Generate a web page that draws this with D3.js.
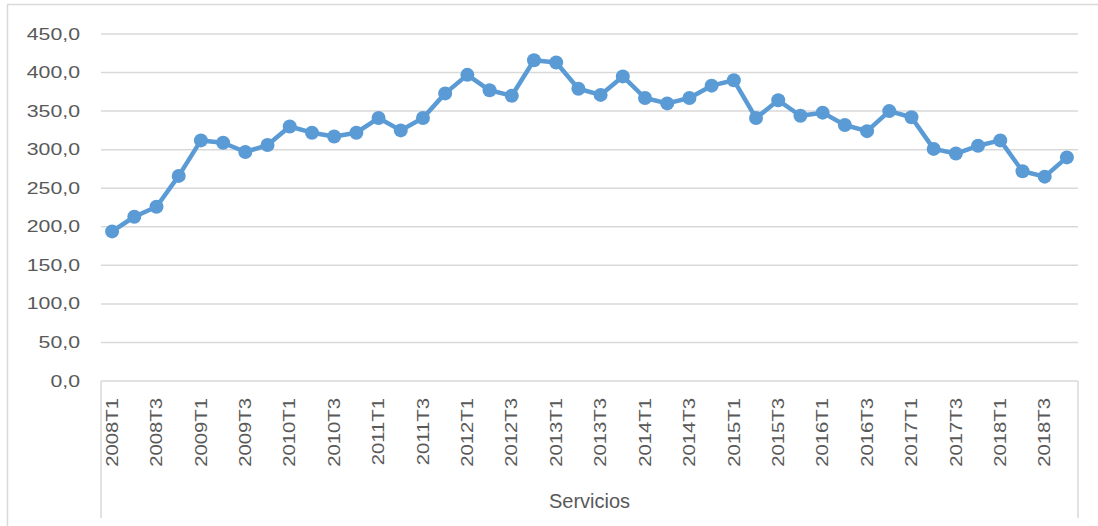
<!DOCTYPE html>
<html><head><meta charset="utf-8">
<script src="https://cdn.jsdelivr.net/npm/d3@7"></script>
<style>html,body{margin:0;padding:0;background:#fff;}svg{display:block;}</style>
</head><body>
<svg id="c" width="1098" height="526"></svg>
<script>
const categories = [];
const years = [2008,2009,2010,2011,2012,2013,2014,2015,2016,2017,2018];
years.forEach(y => [1,2,3,4].forEach(q => categories.push(y + "T" + q)));
const values = [194,213,226,266,312,309,297,306,330,322,317,322,
  341,325,341,373,397,377,370,416,413,379,371,395,
  367,360,367,383,390,341,364,344,348,332,324,350,
  342,301,295,305,312,272,265,290];
const yTicks = [0,50,100,150,200,250,300,350,400,450];
const groupLabel = "Servicios";

const svg = d3.select("#c");
const L = 101, R = 1078, T = 34, B = 381;
const x = d3.scaleBand().domain(categories).range([L, R]);
const y = d3.scaleLinear().domain([0, 450]).range([B, T]);
const fmt = v => d3.format(".1f")(v).replace(".", ",");

// outer frame
svg.append("line").attr("x1",7).attr("x2",1098).attr("y1",4.5).attr("y2",4.5).attr("stroke","#d9d9d9").attr("stroke-width",1.5);
svg.append("line").attr("x1",7.5).attr("x2",7.5).attr("y1",4).attr("y2",526).attr("stroke","#d9d9d9").attr("stroke-width",1.5);

// gridlines
svg.append("g").selectAll("line").data(yTicks).join("line")
  .attr("x1", L).attr("x2", R).attr("y1", d => y(d)).attr("y2", d => y(d))
  .attr("stroke", "#d9d9d9").attr("stroke-width", 1.5);

// category axis box
svg.append("line").attr("x1",L).attr("x2",L).attr("y1",B).attr("y2",518).attr("stroke","#d9d9d9").attr("stroke-width",1.5);
svg.append("line").attr("x1",R).attr("x2",R).attr("y1",B).attr("y2",518).attr("stroke","#d9d9d9").attr("stroke-width",1.5);

// y labels
svg.append("g").selectAll("text").data(yTicks).join("text")
  .attr("transform", d => `translate(80,${y(d)}) scale(1.33,1)`)
  .attr("text-anchor","end").attr("dominant-baseline","central")
  .attr("font-family","Liberation Sans, Arial, sans-serif").attr("font-size",16)
  .attr("fill","#595959").text(d => fmt(d));

// x labels
const shown = categories.filter((c,i) => i % 2 === 0);
svg.append("g").selectAll("text").data(shown).join("text")
  .attr("transform", d => `translate(${x(d) + x.bandwidth()/2},398) rotate(-90) scale(1.27,1)`)
  .attr("text-anchor","end").attr("dominant-baseline","central")
  .attr("font-family","Liberation Sans, Arial, sans-serif").attr("font-size",16)
  .attr("fill","#595959").text(d => d);

svg.append("text").attr("x",(L+R)/2).attr("y",501)
  .attr("text-anchor","middle").attr("dominant-baseline","central")
  .attr("font-family","Liberation Sans, Arial, sans-serif").attr("font-size",20)
  .attr("fill","#595959").text(groupLabel);

// line
const cx = (d,i) => x(categories[i]) + x.bandwidth()/2;
svg.append("path").datum(values)
  .attr("d", d3.line().x(cx).y(d => y(d)))
  .attr("fill","none").attr("stroke","#5B9BD5").attr("stroke-width",4.5).attr("stroke-linejoin","round");
svg.append("g").selectAll("circle").data(values).join("circle")
  .attr("cx", cx).attr("cy", d => y(d)).attr("r", 7).attr("fill","#5B9BD5");
</script>
</body></html>
